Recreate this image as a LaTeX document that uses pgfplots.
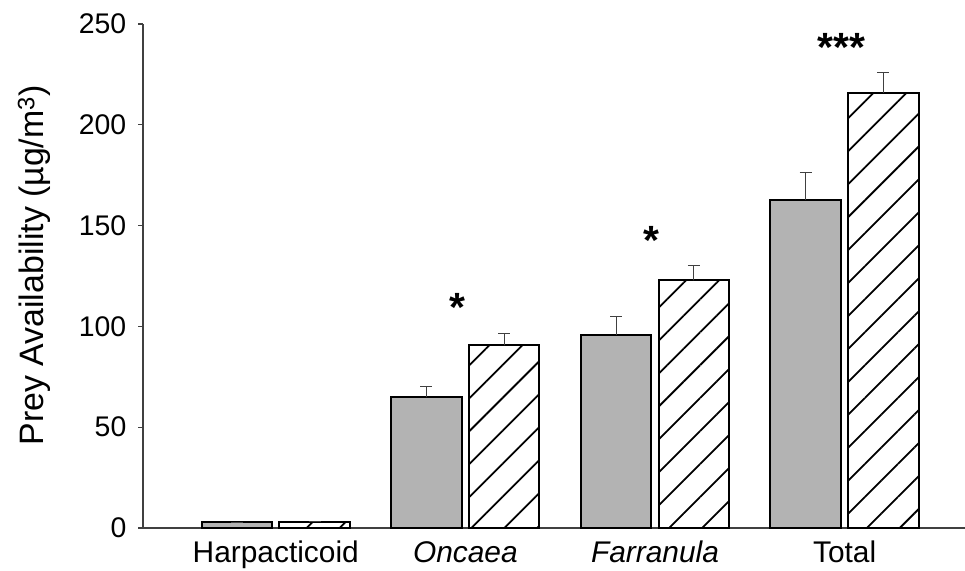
\documentclass[border=0pt]{standalone}
\usepackage{fontspec}
\setmainfont{Liberation Sans}
\usepackage{pgfplots}
\usepackage{pgfplotstable}
\pgfplotsset{compat=1.18}
\usetikzlibrary{patterns.meta}
\definecolor{bargray}{RGB}{179,179,179}
\definecolor{axisgray}{RGB}{64,64,64}

\pgfplotstableread{
x  y     e
0  2.9   0
1  64.8  5.4
2  95.8  9.2
3  162.9 13.4
}\graytab

\pgfplotstableread{
x  y     e
0  3.1   0
1  90.6  5.7
2  122.8 7.2
3  215.9 9.9
}\hatchtab

\begin{document}
\begin{tikzpicture}
\begin{axis}[
 scale only axis, width=822bp, height=504bp,
 xmin=-0.70, xmax=3.635, ymin=0, ymax=250,
 axis x line*=bottom, axis y line*=left,
 axis line style={axisgray, line width=1.2bp},
 ytick={0,50,...,250},
 xtick={0,1,2,3},
 xticklabels={Harpacticoid,\textit{Oncaea},\textit{Farranula},Total},
 xtick style={draw=none},
 ytick style={axisgray, line width=1.2bp},
 tick align=outside,
 major tick length=4.5bp,
 /pgf/number format/assume math mode=true,
 yticklabel style={font=\fontsize{28.5}{34}\selectfont, inner sep=0pt, xshift=-12bp},
 xticklabel style={font=\fontsize{30}{36}\selectfont, inner sep=0pt, anchor=north,
   text height=0.75em, text depth=0.25em, yshift=-22bp},
 ylabel={Prey Availability (µg/m\textsuperscript{3})},
 ylabel style={font=\fontsize{34}{40}\selectfont, at={(axis description cs:-0.1326,0.521)}, anchor=center, inner sep=0pt},
 clip=false,
 ybar, bar width=0.372,
 error bars/y dir=plus, error bars/y explicit,
 error bars/error mark=|,
 error bars/error mark options={mark size=6bp, line width=1bp, draw=axisgray},
 error bars/error bar style={line width=1bp, draw=axisgray},
]
\coordinate (O) at (rel axis cs:0,0);
\addplot[fill=bargray, draw=black, line width=2bp, bar shift=-0.205]
  table[x=x, y=y, y error=e]{\graytab};
\addplot[fill=white, draw=black, line width=2bp, bar shift=0.205,
  postaction={pattern={Lines[angle=45, distance=23.3bp, line width=1.8bp]}}]
  table[x=x, y=y, y error=e]{\hatchtab};
\node[font=\bfseries\fontsize{41}{46}\selectfont, anchor=north, inner sep=0pt] at (axis cs:0.960,116.5) {*};
\node[font=\bfseries\fontsize{41}{46}\selectfont, anchor=north, inner sep=0pt] at (axis cs:1.983,149.5) {*};
\node[font=\bfseries\fontsize{41}{46}\selectfont, anchor=north, inner sep=0pt] at (axis cs:2.982,245.5) {***};
\end{axis}
\pgfresetboundingbox
\path[use as bounding box] (O) ++(-143bp,-43bp) rectangle ++(965bp,571bp);
\end{tikzpicture}
\end{document}
